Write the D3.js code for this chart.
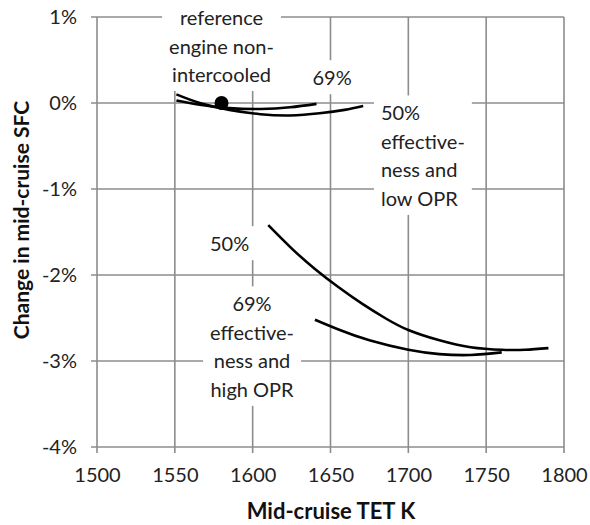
<!DOCTYPE html>
<html><head><meta charset="utf-8">
<script src="https://cdn.jsdelivr.net/npm/d3@7"></script>
<style>body{margin:0;background:#fff}svg{display:block}</style>
</head><body>
<svg id="c" width="590" height="525"></svg>
<script>
// ---- data ----
const xTicks = [1500, 1550, 1600, 1650, 1700, 1750, 1800];
const yTicks = [1, 0, -1, -2, -3, -4];
const lowOpr50X  = [1551, 1566, 1585, 1605, 1624, 1643, 1659, 1671];
const lowOpr50Y  = [0.10, 0.0, -0.08, -0.13, -0.145, -0.12, -0.08, -0.035];
const lowOpr69X  = [1551, 1566, 1585, 1605, 1624, 1641];
const lowOpr69Y  = [0.03, -0.02, -0.06, -0.07, -0.05, -0.01];
const highOpr50X = [1610, 1625, 1640, 1655, 1670, 1685, 1700, 1720, 1740, 1760, 1775, 1790];
const highOpr50Y = [-1.42, -1.69, -1.93, -2.14, -2.33, -2.50, -2.64, -2.76, -2.84, -2.87, -2.87, -2.85];
const highOpr69X = [1640, 1656, 1675, 1700, 1720, 1740, 1760];
const highOpr69Y = [-2.52, -2.64, -2.76, -2.87, -2.92, -2.93, -2.90];
const refPointX = [1580];
const refPointY = [0];
const labelTexts = [
  ["reference", "engine non-", "intercooled"],
  ["69%"],
  ["50%", "effective-", "ness and", "low OPR"],
  ["50%"],
  ["69%", "effective-", "ness and", "high OPR"]
];
const labelX = [1580, 1651, 1682.4, 1572.6, 1599.6];
const labelY = [1.0, 0.30, -0.11, -1.63, -2.33];
const labelAnchor = ["middle", "middle", "start", "start", "middle"];
const xTitle = "Mid-cruise TET K";
const yTitle = "Change in mid-cruise SFC";

// ---- chart ----
const svg = d3.select("#c");
const font = "Lato, 'Open Sans', sans-serif";
const x = d3.scaleLinear().domain([1500, 1800]).range([97, 564]);
const y = d3.scaleLinear().domain([1, -4]).range([17, 447]);
const gridColor = "#8c8c8c";

const grid = svg.append("g");
grid.selectAll(".vg").data(xTicks).join("line")
  .attr("x1", d => x(d)).attr("x2", d => x(d))
  .attr("y1", y(1)).attr("y2", y(-4) + 6)
  .attr("stroke", gridColor).attr("stroke-width", 1.6);
grid.selectAll(".hg").data(yTicks).join("line")
  .attr("x1", x(1500) - 6).attr("x2", x(1800))
  .attr("y1", d => y(d)).attr("y2", d => y(d))
  .attr("stroke", gridColor).attr("stroke-width", 1.6);

// axis tick labels via d3 axes
const xAxis = svg.append("g").attr("transform", `translate(0,${y(-4)})`)
  .call(d3.axisBottom(x).tickValues(xTicks).tickSize(0).tickFormat(d3.format("d")));
const yAxis = svg.append("g").attr("transform", `translate(${x(1500)},0)`)
  .call(d3.axisLeft(y).tickValues(yTicks).tickSize(0).tickPadding(20).tickFormat(d => d + "%"));
[xAxis, yAxis].forEach(a => {
  a.select(".domain").remove();
  a.selectAll("text").attr("font-family", font).attr("font-size", 20).attr("fill", "#222");
});
xAxis.selectAll("text").attr("dy", "0.32em").attr("y", 29);

svg.append("text").attr("x", 331).attr("y", 510).attr("text-anchor", "middle")
  .attr("dominant-baseline", "central").attr("font-family", font)
  .attr("font-weight", "bold").attr("font-size", 22).attr("fill", "#111").text(xTitle);
svg.append("text").attr("transform", "translate(20,220) rotate(-90)").attr("text-anchor", "middle")
  .attr("dominant-baseline", "central").attr("font-family", font)
  .attr("font-weight", "bold").attr("font-size", 21).attr("fill", "#111").text(yTitle);

// labels with white boxes
const lineGap = 28.5;
labelTexts.forEach((lines, i) => {
  const g = svg.append("g");
  const rect = g.append("rect").attr("fill", "#fff");
  const t = g.append("text").attr("font-family", font).attr("font-size", 20).attr("fill", "#222")
    .attr("text-anchor", labelAnchor[i]);
  lines.forEach((s, j) => {
    t.append("tspan").attr("x", x(labelX[i])).attr("y", y(labelY[i]) + j * lineGap)
      .attr("dominant-baseline", "central").text(s);
  });
  const bb = t.node().getBBox();
  rect.attr("x", bb.x - 7).attr("y", bb.y - 5).attr("width", bb.width + 14).attr("height", bb.height + 10);
});

// curves
const line = d3.line().x(d => x(d[0])).y(d => y(d[1])).curve(d3.curveNatural);
[[lowOpr50X, lowOpr50Y], [lowOpr69X, lowOpr69Y], [highOpr50X, highOpr50Y], [highOpr69X, highOpr69Y]]
  .forEach(([xs, ys]) => {
    svg.append("path").datum(xs.map((v, i) => [v, ys[i]])).attr("d", line)
      .attr("fill", "none").attr("stroke", "#000").attr("stroke-width", 2.6);
  });
svg.selectAll(".pt").data(refPointX).join("circle")
  .attr("cx", d => x(d)).attr("cy", (d, i) => y(refPointY[i])).attr("r", 7).attr("fill", "#000");
</script>
</body></html>
